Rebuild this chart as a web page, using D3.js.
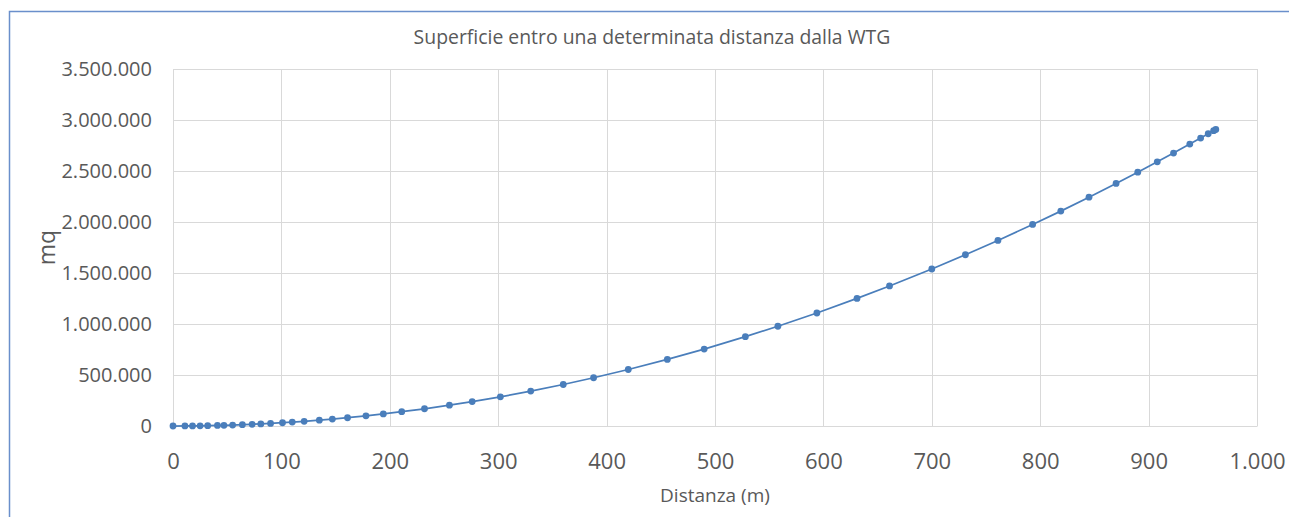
<!DOCTYPE html>
<html>
<head>
<meta charset="utf-8">
<script src="https://cdn.jsdelivr.net/npm/d3@7"></script>
<style>
  body { margin: 0; background: #fff; }
  text { font-family: "Open Sans", sans-serif; fill: #595959; }
</style>
</head>
<body>
<div id="chart"></div>
<script>
// distance from the WTG (m) and surface within that distance (mq)
const distanza = [0, 11, 18, 25, 32, 41, 47, 55, 64, 73, 81, 90, 101, 110, 121, 135, 147, 161, 178, 194,
  211, 232, 255, 276, 302, 330, 360, 388, 420, 456, 490, 528, 558, 594, 631, 661, 700, 731, 761, 793,
  819, 845, 870, 890, 908, 923, 938, 948, 955, 960, 962];
const superficie = [0, 400, 1000, 2000, 3200, 5300, 7000, 9500, 12900, 16700, 20600, 25400, 32000, 38000,
  46000, 57000, 68000, 81000, 99500, 118000, 140000, 169000, 204000, 239000, 286000, 342000, 407000,
  473000, 554000, 653000, 754000, 876000, 978000, 1108000, 1251000, 1373000, 1539000, 1679000, 1819000,
  1976000, 2107000, 2243000, 2378000, 2488000, 2590000, 2676000, 2764000, 2823000, 2865000, 2895000, 2907000];
const xTicks = [0, 100, 200, 300, 400, 500, 600, 700, 800, 900, 1000];
const yTicks = [0, 500000, 1000000, 1500000, 2000000, 2500000, 3000000, 3500000];

const width = 1289, height = 517;
const margin = {top: 69, right: 32, bottom: 91, left: 173};
const blue = "#4a7ebb";

// thousands separator is a dot, as in the original
const fmt = d => d3.format(",")(d).replace(/,/g, ".");

const svg = d3.select("#chart")
  .append("svg")
    .attr("width", width)
    .attr("height", height);

// chart frame
svg.append("rect")
  .attr("x", 9.5).attr("y", 11.5)
  .attr("width", width + 20).attr("height", height + 20)
  .attr("fill", "none")
  .attr("stroke", "#6a8fcb")
  .attr("stroke-width", 1.5);

const x = d3.scaleLinear().domain([0, 1000]).range([margin.left, width - margin.right]);
const y = d3.scaleLinear().domain([0, 3500000]).range([height - margin.bottom, margin.top]);

// gridlines
svg.append("g")
  .selectAll("line")
  .data(yTicks)
  .join("line")
    .attr("x1", x(0)).attr("x2", x(1000))
    .attr("y1", d => Math.round(y(d)) + 0.5).attr("y2", d => Math.round(y(d)) + 0.5)
    .attr("stroke", "#d9d9d9");

svg.append("g")
  .selectAll("line")
  .data(xTicks)
  .join("line")
    .attr("y1", y(0)).attr("y2", y(3500000))
    .attr("x1", d => Math.round(x(d)) + 0.5).attr("x2", d => Math.round(x(d)) + 0.5)
    .attr("stroke", "#d9d9d9");

// axes
const xAxis = svg.append("g")
  .attr("transform", `translate(0,${y(0)})`)
  .call(d3.axisBottom(x).tickValues(xTicks).tickFormat(fmt).tickSize(0).tickPadding(43));
xAxis.select(".domain").attr("stroke", "#d9d9d9");
xAxis.selectAll("text").style("font-size", "22px").attr("dy", "0").attr("fill", "#595959");

const yAxis = svg.append("g")
  .attr("transform", `translate(${x(0)},0)`)
  .call(d3.axisLeft(y).tickValues(yTicks).tickFormat(fmt).tickSize(0).tickPadding(21));
yAxis.select(".domain").remove();
yAxis.selectAll("text").style("font-size", "20px").attr("fill", "#595959");

// line + markers
const line = d3.line()
  .x((d, i) => x(distanza[i]))
  .y(d => y(d));

svg.append("path")
  .datum(superficie)
  .attr("d", line)
  .attr("fill", "none")
  .attr("stroke", blue)
  .attr("stroke-width", 1.75);

svg.append("g")
  .selectAll("circle")
  .data(superficie)
  .join("circle")
    .attr("cx", (d, i) => x(distanza[i]))
    .attr("cy", d => y(d))
    .attr("r", 3.4)
    .attr("fill", blue);

// titles
svg.append("text")
  .attr("x", 652).attr("y", 44)
  .attr("text-anchor", "middle")
  .style("font-size", "19.4px")
  .text("Superficie entro una determinata distanza dalla WTG");

svg.append("text")
  .attr("x", (x(0) + x(1000)) / 2).attr("y", 502)
  .attr("text-anchor", "middle")
  .style("font-size", "19px")
  .text("Distanza (m)");

svg.append("text")
  .attr("transform", `translate(55,${(y(0) + y(3500000)) / 2}) rotate(-90)`)
  .attr("text-anchor", "middle")
  .style("font-size", "23px")
  .text("mq");
</script>
</body>
</html>
